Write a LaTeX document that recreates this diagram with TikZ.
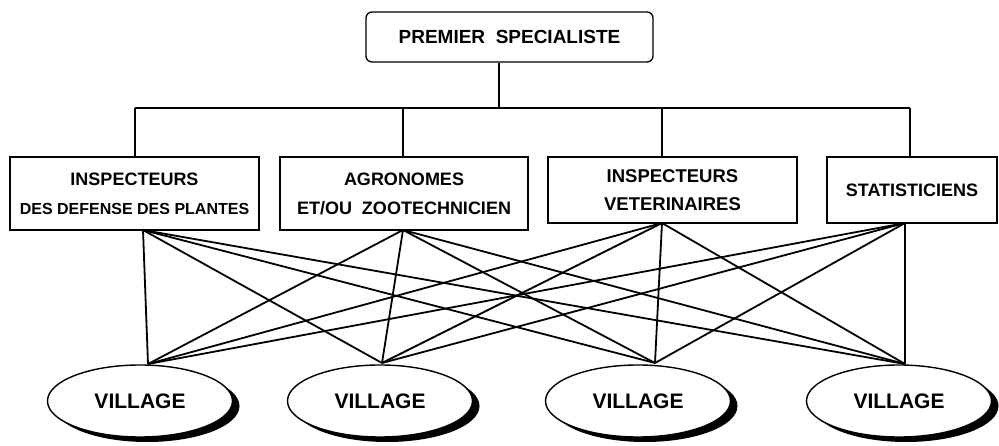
\documentclass[tikz,border=0pt]{standalone}
\usepackage{fontspec}
\setmainfont{Liberation Sans}
\usetikzlibrary{shapes.geometric}
\begin{document}
\begin{tikzpicture}[x=1pt,y=-1pt,
  boxstyle/.style={draw,line width=1.3pt,rectangle,inner sep=0pt,align=center,font=\bfseries\fontsize{18}{29}\selectfont},
  topstyle/.style={boxstyle,rounded corners=6pt},
  vill/.style={draw,line width=1.4pt,ellipse,fill=white,minimum width=185pt,minimum height=72pt,inner sep=0pt,font=\bfseries\fontsize{21}{24}\selectfont},
  vshadow/.style={ellipse,fill=black,minimum width=185pt,minimum height=72pt,inner sep=0pt},
  link/.style={line width=1.8pt},
  tree/.style={line width=1.4pt}]
\useasboundingbox (0,0) rectangle (999,446);
% top box
\node[topstyle,minimum width=287pt,minimum height=50pt] (top) at (509.5,37)
  {\fontsize{19}{22}\selectfont PREMIER\ \ SPECIALISTE};
% second row boxes
\node[boxstyle,minimum width=249pt,minimum height=73pt] (b1) at (134.5,193.5)
  {INSPECTEURS\\\fontsize{16}{29}\selectfont DES DEFENSE DES PLANTES};
\node[boxstyle,minimum width=248pt,minimum height=73pt] (b2) at (404,193.5)
  {AGRONOMES\\ET/OU\ \ ZOOTECHNICIEN};
\node[boxstyle,minimum width=249pt,minimum height=66pt,font=\bfseries\fontsize{18.5}{28}\selectfont] (b3) at (672.5,190)
  {INSPECTEURS\\VETERINAIRES};
\node[boxstyle,minimum width=170pt,minimum height=66pt] (b4) at (912,190)
  {STATISTICIENS};
% tree
\coordinate (bus) at (499,108);
\coordinate (busl) at (135,108);
\coordinate (busr) at (910,108);
\draw[tree] (top.south -| bus) -- (bus);
\draw[tree] (busl) -- (busr);
\draw[tree] (busl) -- (busl |- b1.north);
\draw[tree] (403,108) -- (403,157);
\draw[tree] (662,108) -- (662,157);
\draw[tree] (busr) -- (busr |- b4.north);
% origins and targets
\coordinate (o1) at (143,230);
\coordinate (o2) at (403,230);
\coordinate (o3) at (662,223);
\coordinate (o4) at (905,223);
\coordinate (i1) at (148,364);
\coordinate (i2) at (382,363);
\coordinate (i3) at (655,363);
\coordinate (i4) at (905,364);
\foreach \o in {o1,o2,o3,o4}{
  \foreach \i in {i1,i2,i3,i4}{
    \draw[link] (\o) -- (\i);
  }
}
% villages
\foreach \n/\x in {v1/140,v2/380,v3/638,v4/899}{
  \node[vshadow] at (\x+7,406) {};
  \node[vill] (\n) at (\x,401) {VILLAGE};
}
\end{tikzpicture}
\end{document}
